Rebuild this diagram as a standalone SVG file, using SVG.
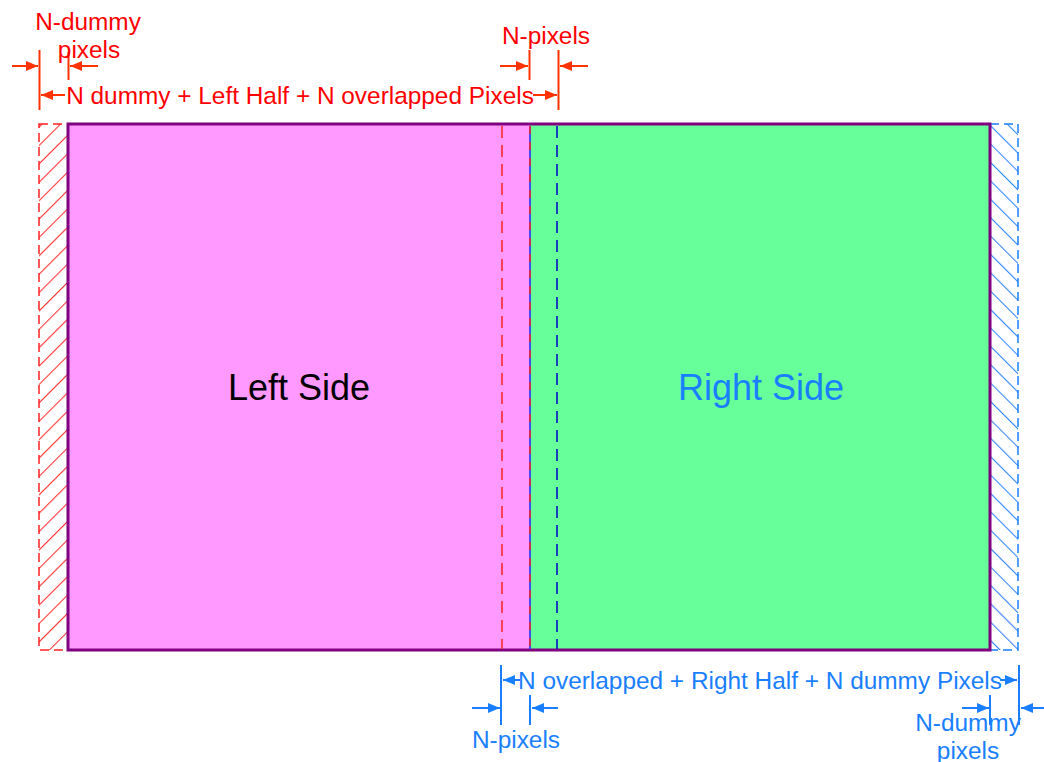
<svg xmlns="http://www.w3.org/2000/svg" width="1044" height="762" viewBox="0 0 1044 762">
<style>
.rt{fill:#FF0000;font-family:"Liberation Sans",Arial,sans-serif;font-size:24.4px}
.bt{fill:#1A7FFF;font-family:"Liberation Sans",Arial,sans-serif;font-size:24.4px}
.big{font-family:"Liberation Sans",Arial,sans-serif;font-size:36px}
.rl{stroke:#FF3300;stroke-width:2;fill:none}
.bl{stroke:#1A7FFF;stroke-width:2;fill:none}
</style>
<defs>
<marker id="ar" viewBox="0 0 12 10" refX="12" refY="5" markerWidth="12" markerHeight="10" markerUnits="userSpaceOnUse" orient="auto">
<path d="M0,0 L12,5 L0,10 Z" fill="#FF3300"/>
</marker>
<marker id="ab" viewBox="0 0 12 10" refX="12" refY="5" markerWidth="12" markerHeight="10" markerUnits="userSpaceOnUse" orient="auto">
<path d="M0,0 L12,5 L0,10 Z" fill="#1A7FFF"/>
</marker>
<pattern id="hr" width="13" height="13" patternUnits="userSpaceOnUse" patternTransform="rotate(45)">
<line x1="0" y1="0" x2="0" y2="13" stroke="#FF3333" stroke-width="2.2"/>
</pattern>
<pattern id="hb" width="13" height="13" patternUnits="userSpaceOnUse" patternTransform="rotate(-45)">
<line x1="0" y1="0" x2="0" y2="13" stroke="#3388FF" stroke-width="2.2"/>
</pattern>
</defs>

<g id="left-dummy">
<rect x="39" y="124" width="29" height="526" fill="url(#hr)" stroke="#FF2222" stroke-width="1.5" stroke-dasharray="9,5"/>
</g>
<g id="right-dummy">
<rect x="990" y="124" width="28" height="526" fill="url(#hb)" stroke="#1A7FFF" stroke-width="1.5" stroke-dasharray="9,5"/>
</g>
<g id="left-side">
<rect x="68" y="124" width="462" height="526" fill="#FF99FF"/>
<text x="299" y="400" class="big" text-anchor="middle" fill="#000">Left Side</text>
</g>
<g id="right-side">
<rect x="530" y="124" width="460" height="526" fill="#66FF99"/>
<text x="761" y="400" class="big" text-anchor="middle" fill="#1A7FFF">Right Side</text>
</g>
<g id="frame">
<rect x="68" y="124" width="922" height="526" fill="none" stroke="#800080" stroke-width="3"/>
<line x1="502" y1="126" x2="502" y2="649" stroke="#FF2222" stroke-width="1.5" stroke-dasharray="12,7"/>
<line x1="530" y1="126" x2="530" y2="649" stroke="#2222FF" stroke-width="1.5"/>
<line x1="530" y1="126" x2="530" y2="649" stroke="#FF2222" stroke-width="1.5" stroke-dasharray="8,8"/>
<line x1="557" y1="126" x2="557" y2="649" stroke="#0000CC" stroke-width="1.5" stroke-dasharray="12,7"/>
</g>

<g id="connectors">
<line class="rl" x1="39.5" y1="50" x2="39.5" y2="110"/>
<line class="rl" x1="68.5" y1="52" x2="68.5" y2="80"/>
<line class="rl" x1="12" y1="66" x2="38" y2="66" marker-end="url(#ar)"/>
<line class="rl" x1="98" y1="66" x2="70" y2="66" marker-end="url(#ar)"/>
<line class="rl" x1="65" y1="95" x2="41" y2="95" marker-end="url(#ar)"/>
<line class="rl" x1="533" y1="95" x2="557" y2="95" marker-end="url(#ar)"/>
<line class="rl" x1="529.5" y1="50" x2="529.5" y2="80"/>
<line class="rl" x1="558.5" y1="50" x2="558.5" y2="110"/>
<line class="rl" x1="500" y1="66" x2="528" y2="66" marker-end="url(#ar)"/>
<line class="rl" x1="588" y1="66" x2="560" y2="66" marker-end="url(#ar)"/>

<line class="bl" x1="501" y1="665" x2="501" y2="725"/>
<line class="bl" x1="530" y1="695" x2="530" y2="725"/>
<line class="bl" x1="520" y1="680" x2="503" y2="680" marker-end="url(#ab)"/>
<line class="bl" x1="1000" y1="680" x2="1017" y2="680" marker-end="url(#ab)"/>
<line class="bl" x1="472" y1="708" x2="500" y2="708" marker-end="url(#ab)"/>
<line class="bl" x1="558" y1="708" x2="532" y2="708" marker-end="url(#ab)"/>
<line class="bl" x1="990" y1="695" x2="990" y2="725"/>
<line class="bl" x1="1019" y1="665" x2="1019" y2="725"/>
<line class="bl" x1="962" y1="708" x2="989" y2="708" marker-end="url(#ab)"/>
<line class="bl" x1="1044" y1="708" x2="1021" y2="708" marker-end="url(#ab)"/>
</g>

<g id="labels">
<text class="rt" x="88" y="30" text-anchor="middle">N-dummy</text>
<text class="rt" x="89" y="58" text-anchor="middle">pixels</text>
<text class="rt" x="300" y="104" text-anchor="middle">N dummy + Left Half + N overlapped Pixels</text>
<text class="rt" x="546" y="44" text-anchor="middle">N-pixels</text>
<text class="bt" x="760" y="689" text-anchor="middle">N overlapped + Right Half + N dummy Pixels</text>
<text class="bt" x="516" y="748" text-anchor="middle">N-pixels</text>
<text class="bt" x="968" y="731" text-anchor="middle">N-dummy</text>
<text class="bt" x="968" y="759" text-anchor="middle">pixels</text>
</g>
</svg>
